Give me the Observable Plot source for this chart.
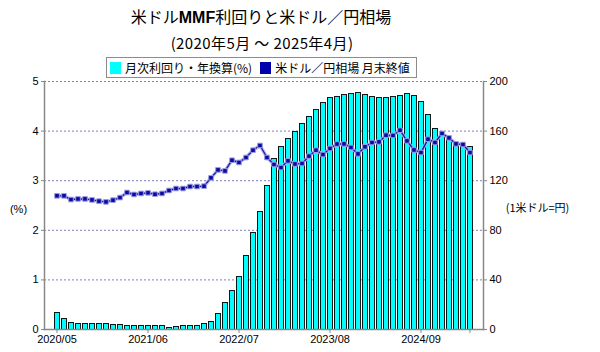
<!DOCTYPE html>
<html>
<head>
<meta charset="utf-8">
<script src="https://cdn.jsdelivr.net/npm/d3@7"></script>
<script src="https://cdn.jsdelivr.net/npm/@observablehq/plot@0.6"></script>
<style>
  html, body { margin: 0; padding: 0; background: #fff; }
  #wrap { position: relative; width: 600px; height: 352px; overflow: hidden; font-family: "Noto Sans CJK JP", sans-serif; }
  #title { position: absolute; left: 0; width: 522px; top: 5px; text-align: center; font-size: 16px; line-height: 22px; color: #000; }
  #subtitle { position: absolute; left: 0; width: 524px; top: 33px; text-align: center; font-size: 15px; letter-spacing: 0.4px; line-height: 20px; color: #000; }
  #legend { position: absolute; left: 106px; top: 57px; width: 309px; height: 19px; border: 1px solid #8c8c8c; background: #fff;
            display: flex; align-items: center; font-size: 12px; line-height: 19px; white-space: nowrap; }
  .sw { display: inline-block; width: 11px; height: 12px; margin: 0 4px 0 3px; }
  #chart { position: absolute; left: 0; top: 0; }
</style>
</head>
<body>
<div id="wrap">
  <div id="chart"></div>
  <div id="title">米ドル<b style="font-family:'Liberation Sans',Arial,sans-serif">MMF</b>利回りと米ドル／円相場</div>
  <div id="subtitle">(2020年5月 ～ 2025年4月)</div>
  <div id="legend"></div>
</div>
<script>
const months = [
  "2020/05","2020/06","2020/07","2020/08","2020/09","2020/10","2020/11","2020/12",
  "2021/01","2021/02","2021/03","2021/04","2021/05","2021/06","2021/07","2021/08","2021/09","2021/10","2021/11","2021/12",
  "2022/01","2022/02","2022/03","2022/04","2022/05","2022/06","2022/07","2022/08","2022/09","2022/10","2022/11","2022/12",
  "2023/01","2023/02","2023/03","2023/04","2023/05","2023/06","2023/07","2023/08","2023/09","2023/10","2023/11","2023/12",
  "2024/01","2024/02","2024/03","2024/04","2024/05","2024/06","2024/07","2024/08","2024/09","2024/10","2024/11","2024/12",
  "2025/01","2025/02","2025/03","2025/04"
];
// 月次利回り・年換算(%)
const mmfYield = [
  0.34,0.22,0.14,0.12,0.12,0.12,0.12,0.12,0.10,0.10,
  0.08,0.08,0.08,0.08,0.08,0.08,0.04,0.06,0.08,0.08,
  0.08,0.12,0.16,0.32,0.54,0.77,1.05,1.49,1.94,2.36,
  2.90,3.43,3.67,3.85,3.99,4.15,4.29,4.42,4.56,4.66,
  4.68,4.72,4.74,4.76,4.72,4.68,4.66,4.66,4.68,4.70,
  4.74,4.70,4.58,4.33,4.05,3.93,3.85,3.77,3.69,3.67
];
// 米ドル／円相場 月末終値
const usdJpy = [
  107.8,107.8,104.8,105.3,105.3,104.5,103.5,102.9,104.3,106.4,
  110.5,108.9,109.7,110.2,109.1,109.7,112.1,113.7,113.7,115.3,
  115.3,115.6,122.3,128.7,127.9,136.5,134.7,138.7,144.6,148.4,
  138.7,133.1,130.6,136.0,133.5,133.9,139.8,144.6,141.1,146.0,
  149.6,149.7,146.8,141.6,147.3,150.8,151.3,156.7,156.5,160.7,
  152.1,144.8,142.7,153.5,150.8,158.1,154.5,149.7,149.2,142.7
];
const leftTicks = [0, 1, 2, 3, 4, 5];
const rightTickLabels = [0, 40, 80, 120, 160, 200];
const xTickMonths = ["2020/05","2021/06","2022/07","2023/08","2024/09","2025/04"];
const xLabelMonths = ["2020/05","2021/06","2022/07","2023/08","2024/09"];
const legendItems = [
  {label: "月次利回り・年換算(%)", color: "#00ffff"},
  {label: "米ドル／円相場 月末終値", color: "#0000aa"}
];
const yenPerUnit = rightTickLabels[1] / leftTicks[1];

const data = months.map((m, i) => ({month: m, yld: mmfYield[i], yen: usdJpy[i]}));

const barColor = "#00ffff";
const lineColor = "#1c1ca8";

const chart = Plot.plot({
  width: 600,
  height: 352,
  marginTop: 81,
  marginBottom: 23,
  marginLeft: 44,
  marginRight: 117,
  style: {fontFamily: "'Liberation Sans', Arial, sans-serif", fontSize: "11px", color: "#000", background: "#fff"},
  x: {type: "band", domain: months, paddingInner: 0.28, paddingOuter: 1.14, align: 0.5},
  y: {domain: [0, 5]},
  marks: [
    Plot.gridY(leftTicks.filter(d => d > 0), {stroke: "#7f7fbf", strokeOpacity: 1, strokeDasharray: "2,2", strokeWidth: 1}),
    Plot.barY(data, {x: "month", y: "yld", fill: barColor, stroke: "#000", strokeWidth: 0.9, shapeRendering: "crispEdges"}),
    Plot.line(data, {x: "month", y: d => d.yen / yenPerUnit, stroke: "#b4b4f0", strokeWidth: 3.5, strokeOpacity: 0.9}),
    Plot.line(data, {x: "month", y: d => d.yen / yenPerUnit, stroke: lineColor, strokeWidth: 1.4}),
    Plot.dot(data, {x: "month", y: d => d.yen / yenPerUnit, symbol: "square", r: 2.6, fill: "#0a0a9e", stroke: "#9c9ce6", strokeWidth: 1}),
    Plot.frame({anchor: "left", stroke: "#888", strokeWidth: 1.5}),
    Plot.frame({anchor: "right", stroke: "#888", strokeWidth: 1.5}),
    Plot.frame({anchor: "bottom", stroke: "#888", strokeWidth: 1.5}),
    Plot.axisY({anchor: "left", ticks: leftTicks, tickSize: 3, tickPadding: 3, tickFormat: d3.format("d"), label: null, stroke: "#888"}),
    Plot.axisY({anchor: "right", ticks: leftTicks, tickSize: 3, tickPadding: 3, tickFormat: (d, i) => String(rightTickLabels[i]), label: null, stroke: "#888"}),
    Plot.axisX({ticks: xTickMonths, tickSize: 4, tickPadding: 2, tickFormat: d => xLabelMonths.includes(d) ? d : "", label: null, stroke: "#888"}),
    Plot.text(["(%)"], {frameAnchor: "left", dx: -26, dy: 4, text: d => d, fontSize: 11, textAnchor: "middle"}),
    Plot.text(["(1米ドル=円)"], {frameAnchor: "right", dx: 54, dy: 3, text: d => d, fontSize: 11, textAnchor: "middle", fontFamily: "'Noto Sans CJK JP', sans-serif"})
  ]
});
document.getElementById("chart").appendChild(chart);

const legend = document.getElementById("legend");
legendItems.forEach((it, i) => {
  const sw = document.createElement("span");
  sw.className = "sw";
  sw.style.background = it.color;
  if (i > 0) sw.style.marginLeft = "8px";
  legend.appendChild(sw);
  const t = document.createElement("span");
  t.textContent = it.label;
  legend.appendChild(t);
});
</script>
</body>
</html>
